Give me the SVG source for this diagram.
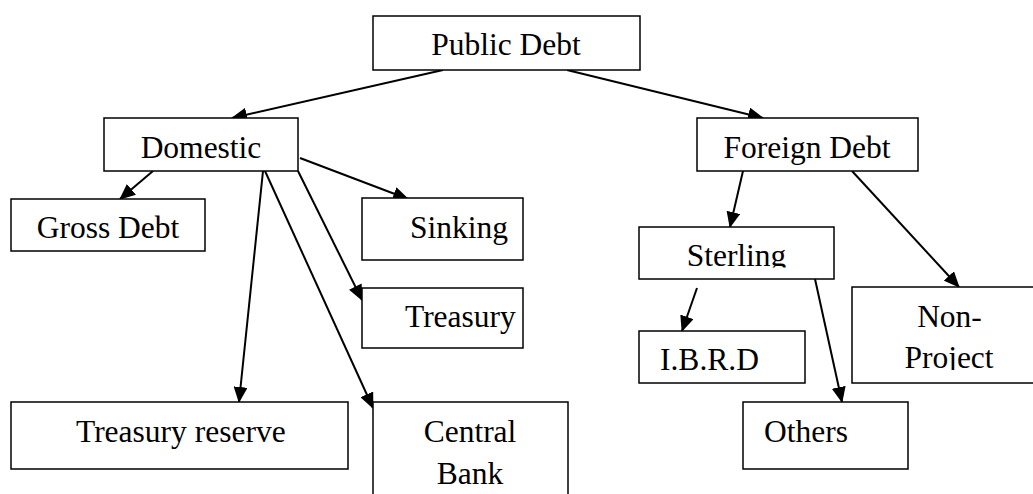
<svg xmlns="http://www.w3.org/2000/svg" width="1033" height="494" viewBox="0 0 1033 494">
<style>
.box{fill:#fff;stroke:#000;stroke-width:1.5}
.t{font-family:"Liberation Serif","Times New Roman",serif;font-size:31.5px;fill:#000}
.m{text-anchor:middle}
.c{stroke:#000;stroke-width:2;fill:none;marker-end:url(#ah)}
</style>
<defs>
<marker id="ah" markerUnits="userSpaceOnUse" markerWidth="16" markerHeight="14" viewBox="0 0 16 14" refX="15" refY="7" orient="auto">
<path d="M0,0 L16,7 L0,14 z" fill="#000"/>
</marker>
<clipPath id="clipSterling"><rect x="639" y="220" width="196" height="47.5"/></clipPath>
<clipPath id="clipNonProject"><rect x="852" y="280" width="181" height="90"/></clipPath>
</defs>
<rect width="1033" height="494" fill="#fff"/>
<g id="connectors">
<line class="c" x1="443" y1="70" x2="232" y2="118"/>
<line class="c" x1="567" y1="70" x2="763" y2="118"/>
<line class="c" x1="153" y1="171" x2="120" y2="199"/>
<line class="c" x1="300" y1="158" x2="408" y2="199"/>
<line class="c" x1="263" y1="171" x2="239" y2="402"/>
<line class="c" x1="265" y1="171" x2="373" y2="408"/>
<line class="c" x1="298" y1="171" x2="362" y2="300"/>
<line class="c" x1="743" y1="171" x2="730" y2="227"/>
<line class="c" x1="852" y1="171" x2="959" y2="287"/>
<line class="c" x1="697" y1="288" x2="682" y2="331"/>
<line class="c" x1="815" y1="279" x2="842" y2="402"/>
</g>
<g id="public-debt"><rect class="box" x="373" y="16" width="267" height="54"/><text class="t m" x="506" y="55">Public Debt</text></g>
<g id="domestic"><rect class="box" x="104" y="118" width="194" height="53"/><text class="t m" x="201" y="158">Domestic</text></g>
<g id="foreign-debt"><rect class="box" x="697" y="118" width="221" height="53"/><text class="t m" x="807" y="158">Foreign Debt</text></g>
<g id="gross-debt"><rect class="box" x="11" y="199" width="194" height="52"/><text class="t m" x="108" y="238">Gross Debt</text></g>
<g id="sinking"><rect class="box" x="362" y="198" width="161" height="62"/><text class="t" x="410" y="238">Sinking</text></g>
<g id="treasury"><rect class="box" x="362" y="288" width="161" height="60"/><text class="t" x="405" y="327">Treasury</text></g>
<g id="treasury-reserve"><rect class="box" x="11" y="402" width="337" height="67"/><text class="t" x="76" y="442">Treasury reserve</text></g>
<g id="central-bank"><rect class="box" x="373" y="402" width="195" height="110"/><text class="t m" x="470" y="442">Central</text><text class="t m" x="470" y="484">Bank</text></g>
<g id="sterling"><rect class="box" x="639" y="227" width="195" height="52"/><text class="t m" x="736.5" y="266" clip-path="url(#clipSterling)">Sterling</text></g>
<g id="ibrd"><rect class="box" x="639" y="331" width="166" height="52"/><text class="t" x="660" y="370">I.B.R.D</text></g>
<g id="non-project"><rect class="box" x="852" y="287" width="195" height="96"/><g clip-path="url(#clipNonProject)"><text class="t m" x="949.5" y="327">Non-</text><text class="t m" x="949" y="368">Project</text></g></g>
<g id="others"><rect class="box" x="743" y="402" width="165" height="67"/><text class="t" x="764" y="442">Others</text></g>
</svg>
